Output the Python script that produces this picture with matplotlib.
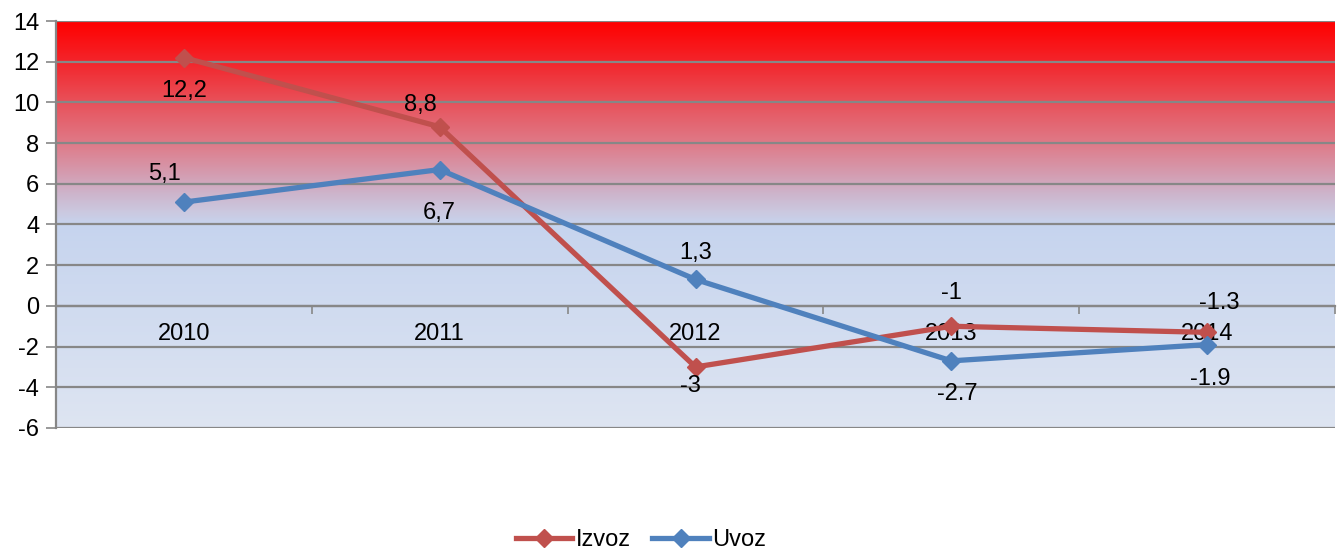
import numpy as np
import matplotlib.pyplot as plt
from matplotlib.colors import to_rgb

# ------------------ DATA ------------------

years = ['2010', '2011', '2012', '2013', '2014']
izvoz = [12.2, 8.8, -3.0, -1.0, -1.3]
uvoz = [5.1, 6.7, 1.3, -2.7, -1.9]
izvoz_labels = ['12,2', '8,8', '-3', '-1', '-1.3']
uvoz_labels = ['5,1', '6,7', '1,3', '-2.7', '-1.9']

# label offsets in points (dx, dy)
izvoz_offsets = [(0, -24), (-14, 16), (-4, -14), (0, 24), (9, 21)]
uvoz_offsets = [(-14, 20), (0, -31), (0, 19), (4, -24), (2, -25)]

RED = '#C0504D'
BLUE = '#4F81BD'
GRID = '#878787'
FS = 17

plt.rcParams['font.family'] = ['Liberation Sans', 'DejaVu Sans']
plt.rcParams['axes.unicode_minus'] = False

fig = plt.figure(figsize=(13.41, 5.5), dpi=100)
ax = fig.add_axes([56 / 1341, 122 / 550, 1279 / 1341, 407 / 550])

# ------------------ BACKGROUND GRADIENT ------------------

stops_v = [-6, 4.0, 4.6, 5.5, 6.5, 8, 10, 12, 14]
stops_c = ['#DEE5F2', '#C6D4EE', '#CBC9E0', '#CDB5CC', '#D49CB0', '#DF7A88',
           '#E8525B', '#F3252B', '#FF0000']
vals = np.linspace(14, -6, 600)
rgb = np.array([to_rgb(c) for c in stops_c])
grad = np.stack([np.interp(vals, stops_v, rgb[:, k]) for k in range(3)], axis=1)
grad = np.repeat(grad[:, None, :], 2, axis=1)
ax.imshow(grad, extent=[-0.5, 4.5, -6, 14], aspect='auto', zorder=0,
          interpolation='bilinear')

# ------------------ LINES ------------------

x = np.arange(len(years))
ax.plot(x, izvoz, color=RED, lw=3.8, marker='D', ms=9, label='Izvoz', zorder=3)
ax.plot(x, uvoz, color=BLUE, lw=3.8, marker='D', ms=9, label='Uvoz', zorder=4)

for xi, yi, t, off in zip(x, izvoz, izvoz_labels, izvoz_offsets):
    ax.annotate(t, (xi, yi), xytext=off, textcoords='offset points',
                ha='center', va='center', fontsize=FS, zorder=5)
for xi, yi, t, off in zip(x, uvoz, uvoz_labels, uvoz_offsets):
    ax.annotate(t, (xi, yi), xytext=off, textcoords='offset points',
                ha='center', va='center', fontsize=FS, zorder=5)

# ------------------ AXES ------------------

ax.set_xlim(-0.5, 4.5)
ax.set_ylim(-6, 14)
ax.set_yticks(np.arange(-6, 15, 2))
ax.yaxis.grid(True, color=GRID, lw=1.6)
ax.tick_params(axis='y', labelsize=FS, length=7, width=1.2, color=GRID, pad=5)

ax.spines['bottom'].set_position(('data', 0))
ax.spines['bottom'].set_color(GRID)
ax.spines['bottom'].set_linewidth(1.6)
ax.spines['left'].set_color(GRID)
ax.spines['left'].set_linewidth(1.6)
ax.spines['top'].set_visible(False)
ax.spines['right'].set_visible(False)

ax.set_xticks(np.arange(-0.5, 4.6, 1))
ax.set_xticklabels([])
ax.tick_params(axis='x', which='major', length=6, width=1.2, color=GRID)
ax.set_xticks(x, minor=True)
ax.set_xticklabels(years, minor=True)
ax.tick_params(axis='x', which='minor', length=0, labelsize=FS, pad=12)

fig.legend(loc='center', bbox_to_anchor=(641 / 1341, 10 / 550), ncol=2,
           frameon=False, fontsize=FS, handlelength=2.4, handletextpad=0.15,
           columnspacing=0.9)

fig.savefig('out.png', dpi=100)
